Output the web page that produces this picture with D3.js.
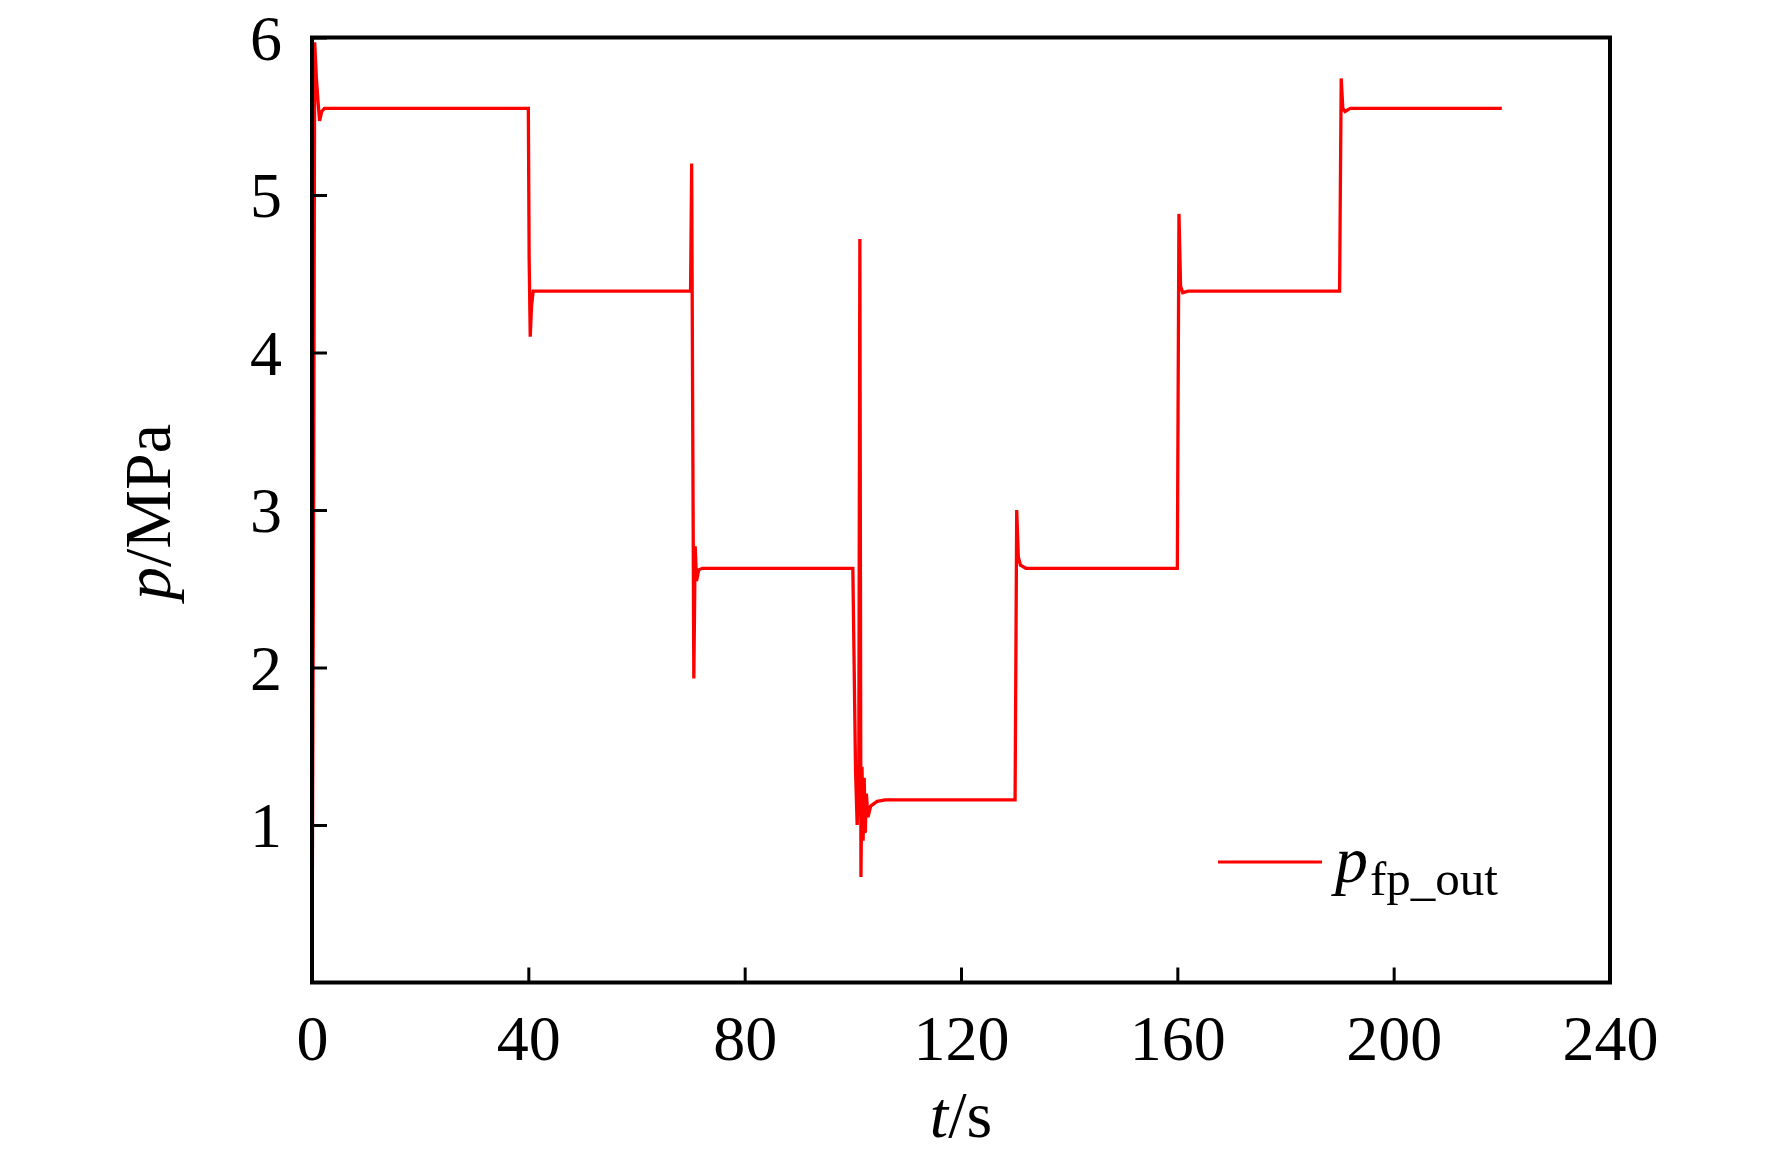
<!DOCTYPE html>
<html>
<head>
<meta charset="utf-8">
<script src="https://cdn.jsdelivr.net/npm/d3@7"></script>
<style>
  html, body { margin: 0; padding: 0; background: #ffffff; }
  svg { display: block; }
  text { font-family: "Liberation Serif", "Times New Roman", serif; fill: #000; }
</style>
</head>
<body>
<svg id="chart" width="1772" height="1157"></svg>
<script>
// ---- data ----
const time = [
  0, 0.3, 0.5, 0.8, 1.1, 1.4, 1.8, 2.3,
  40.0, 40.15, 40.35, 40.6, 40.9, 41.5,
  70.0, 70.2, 70.4, 70.6, 70.85, 71.1, 71.5, 72.2,
  100.0, 100.5, 100.8, 101.1, 101.3, 101.5, 101.7, 101.9, 102.1, 102.3, 102.5, 102.8, 103.3, 104.5, 106.0,
  130.0, 130.3, 130.6, 131.0, 132.0,
  160.0, 160.3, 160.6, 161.0, 162.0,
  190.0, 190.3, 190.6, 191.0, 192.0,
  220.0
];
const pressure = [
  0, 3.0, 5.97, 5.75, 5.6, 5.47, 5.53, 5.55,
  5.55, 4.6, 4.10, 4.30, 4.39, 4.39,
  4.39, 5.20, 3.5, 1.93, 2.77, 2.55, 2.62, 2.63,
  2.63, 1.35, 1.0, 1.3, 4.72, 0.67, 1.37, 0.90, 1.30, 0.95, 1.20, 1.05, 1.12, 1.15, 1.16,
  1.16, 3.00, 2.70, 2.65, 2.63,
  2.63, 4.88, 4.42, 4.38, 4.39,
  4.39, 5.74, 5.55, 5.53, 5.55,
  5.55
];
const xTicks = [0, 40, 80, 120, 160, 200, 240];
const yTicks = [1, 2, 3, 4, 5, 6];
const seriesName = "fp_out";

// ---- layout ----
const svg = d3.select("#chart");
const L = 312, R = 1610, T = 37.5, B = 982.5;

const x = d3.scaleLinear().domain([0, 240]).range([L, R]);
const y = d3.scaleLinear().domain([0, 6]).range([B, T]);

svg.append("defs").append("clipPath").attr("id", "clip")
  .append("rect").attr("x", L).attr("y", T).attr("width", R - L).attr("height", B - T);

// line
const pts = time.map((t, i) => [t, pressure[i]]);
const line = d3.line().x(d => x(d[0])).y(d => y(d[1]));
svg.append("path")
  .datum(pts)
  .attr("clip-path", "url(#clip)")
  .attr("d", line)
  .attr("fill", "none")
  .attr("stroke", "#ff0000")
  .attr("stroke-width", 3.3)
  .attr("stroke-linejoin", "miter");

// x axis
const xAxis = svg.append("g").attr("transform", `translate(0,${B})`)
  .call(d3.axisBottom(x).tickValues(xTicks).tickSizeInner(-15).tickSizeOuter(0).tickFormat(d3.format("d")));
xAxis.select(".domain").remove();
xAxis.selectAll(".tick line").attr("stroke", "#000").attr("stroke-width", 3);
xAxis.selectAll(".tick text")
  .attr("y", 1060 - B).attr("dy", 0)
  .style("font-family", "'Liberation Serif', serif").style("font-size", "64px").attr("fill", "#000");

// y axis
const yAxis = svg.append("g").attr("transform", `translate(${L},0)`)
  .call(d3.axisLeft(y).tickValues(yTicks).tickSizeInner(-15).tickSizeOuter(0).tickFormat(d3.format("d")));
yAxis.select(".domain").remove();
yAxis.selectAll(".tick line").attr("stroke", "#000").attr("stroke-width", 3);
yAxis.selectAll(".tick text")
  .attr("x", 282 - L).attr("dy", "0.34em")
  .style("font-family", "'Liberation Serif', serif").style("font-size", "64px").attr("fill", "#000");

// frame
svg.append("rect")
  .attr("x", L).attr("y", T).attr("width", R - L).attr("height", B - T)
  .attr("fill", "none").attr("stroke", "#000").attr("stroke-width", 4);

// axis titles
const xt = svg.append("text").attr("x", 961).attr("y", 1137)
  .attr("text-anchor", "middle").style("font-size", "66px");
xt.append("tspan").style("font-style", "italic").text("t");
xt.append("tspan").text("/s");

const yt = svg.append("text")
  .attr("transform", "translate(170,512) rotate(-90)")
  .attr("text-anchor", "middle").style("font-size", "66px");
yt.append("tspan").style("font-style", "italic").text("p");
yt.append("tspan").text("/MPa");

// legend
svg.append("line")
  .attr("x1", 1218).attr("x2", 1322).attr("y1", 862).attr("y2", 862)
  .attr("stroke", "#ff0000").attr("stroke-width", 3);
svg.append("text").attr("x", 1335).attr("y", 882)
  .style("font-size", "66px").style("font-style", "italic").text("p");
svg.append("text").attr("x", 1370).attr("y", 895)
  .style("font-size", "49px").text(seriesName);
</script>
</body>
</html>
